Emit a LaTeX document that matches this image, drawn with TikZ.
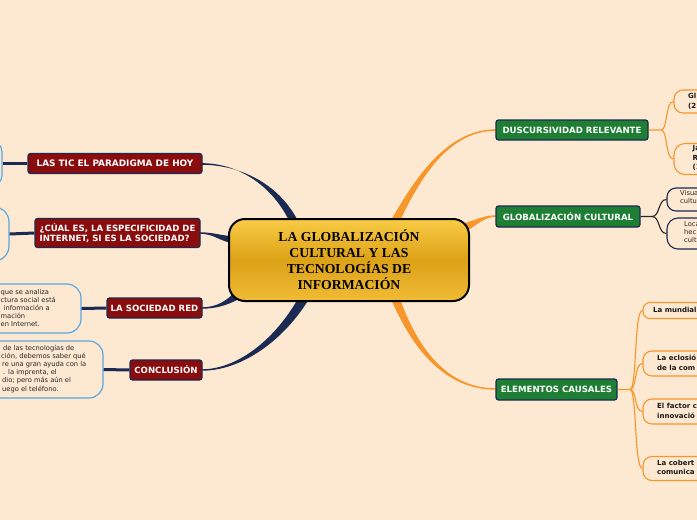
\documentclass[tikz,border=0pt]{standalone}
\usepackage{fontspec}
\setmainfont{DejaVu Sans}
\newfontfamily\titlefont{Liberation Serif}
\usetikzlibrary{calc}
\definecolor{bg}{HTML}{FDE8D2}
\definecolor{navy}{HTML}{1B2A52}
\definecolor{redn}{HTML}{8A0C0C}
\definecolor{greenn}{HTML}{1E7E34}
\definecolor{orangel}{HTML}{F7962B}
\definecolor{bluel}{HTML}{5AA9E0}
\definecolor{gtop}{HTML}{F9CB45}
\definecolor{gmid}{HTML}{DCA218}
\definecolor{gbot}{HTML}{F0BB35}
\begin{document}
\begin{tikzpicture}[x=1pt,y=-1pt,
  mainbox/.style={draw=black,line width=2pt,rounded corners=16pt,top color=gtop,bottom color=gbot,middle color=gmid,minimum width=240pt,minimum height=82pt,align=center,inner sep=0pt,font=\titlefont\fontsize{13.7}{16}\selectfont\bfseries},
  redbox/.style={draw=navy,line width=1.2pt,fill=redn,rounded corners=2.5pt,text=white,font=\fontsize{8.6}{10.5}\selectfont\bfseries,inner sep=0pt,minimum height=20pt},
  greenbox/.style={redbox,fill=greenn},
  blueleaf/.style={draw=bluel,line width=1.2pt,fill=bg,rounded corners=12pt,inner sep=0pt},
  orleaf/.style={draw=orangel,line width=1.1pt,fill=bg,rounded corners=9pt,inner sep=0pt},
  navyleaf/.style={draw=navy,line width=1.1pt,fill=bg,rounded corners=9pt,inner sep=0pt},
  smalltxt/.style={font=\fontsize{6.7}{8.4}\selectfont,align=left,inner sep=0pt,anchor=north west,text=black!85},
  boldtxt/.style={font=\fontsize{7}{9.5}\selectfont\bfseries,align=left,inner sep=0pt,anchor=north west,text=black!90},
  navyline/.style={draw=navy,line width=3pt},
  orthin/.style={draw=orangel,line width=1.1pt},
  blthin/.style={draw=black!85,line width=1.1pt}
]
\useasboundingbox (0,0) rectangle (697,520);
\fill[bg] (0,0) rectangle (697,520);

\coordinate (cc) at (349,260);

% ---------- main branches (tapered) ----------
% left, navy
\fill[navy] (202,163.2) .. controls (238,163) and (274,186) .. (291,225) -- (300,225) .. controls (281,184) and (240,164.8) .. (202,164.8) -- cycle;
\fill[navy] (200,232.3) .. controls (214,232.3) and (222,236) .. (233,236) -- (233,243) .. controls (221,242) and (214,233.7) .. (200,233.7) -- cycle;
\fill[navy] (202,307.3) .. controls (216,307.3) and (228,301) .. (237,289) -- (244,296) .. controls (231,304) and (218,308.7) .. (202,308.7) -- cycle;
\fill[navy] (202,369.3) .. controls (240,369) and (278,336) .. (300,295) -- (309,299) .. controls (284,340) and (242,370.7) .. (202,370.7) -- cycle;
% right, orange
\fill[orangel] (496,129.3) .. controls (446,129.3) and (414,180) .. (390,222) -- (398,225) .. controls (418,182) and (447,130.7) .. (496,130.7) -- cycle;
\fill[orangel] (496,215.3) .. controls (485,215.3) and (478,219) .. (465,223) -- (467,231) .. controls (479,223) and (486,216.7) .. (496,216.7) -- cycle;
\fill[orangel] (496,388.3) .. controls (445,388.3) and (416,345) .. (399,296) -- (391,299) .. controls (412,348) and (444,389.7) .. (496,389.7) -- cycle;

% ---------- central node ----------
\node[mainbox] (c) at (cc) {LA GLOBALIZACIÓN\\CULTURAL Y LAS\\TECNOLOGÍAS DE\\INFORMACIÓN};

% ---------- left red nodes ----------
\node[redbox,minimum width=174pt,font=\fontsize{8.9}{10.5}\selectfont\bfseries] (tic) at (115,163.5) {LAS TIC EL PARADIGMA DE HOY};
\node[redbox,minimum width=165pt,minimum height=29pt,align=left] (cual) at (117.5,233) {¿CÚAL ES, LA ESPECIFICIDAD DE\\INTERNET, SI ES LA SOCIEDAD?};
\node[redbox,minimum width=95pt] (soc) at (154.5,308) {LA SOCIEDAD RED};
\node[redbox,minimum width=72pt] (conc) at (166,370) {CONCLUSIÓN};

% ---------- left leaves ----------
\node[blueleaf,minimum width=80pt,minimum height=47pt] (l1) at (-38,163.5) {};
\node[blueleaf,minimum width=80pt,minimum height=54pt,rounded corners=15pt] (l2) at (-31,234) {};
\node[blueleaf,minimum width=140pt,minimum height=49pt,rounded corners=14pt] (l3) at (11,308.5) {};
\node[blueleaf,minimum width=160pt,minimum height=57pt,rounded corners=14pt] (l4) at (23,369.5) {};
\path[navyline] (l1.east) -- (tic.west);
\path[navyline] (l2.east) -- (cual.west);
\path[navyline] (l3.east) -- (soc.west);
\path[navyline] (l4.east) -- (conc.west);
\node[smalltxt] (t3) at (0.5,289) {que se analiza\\[-0.3pt]ctura social está\\[-0.3pt]\hspace*{3pt}información a\\[-0.3pt]mación\\[-0.3pt]en Internet.};
\node[smalltxt] (t4) at (1,345) {\hspace*{2pt}de las tecnologías de\\[-0.3pt]ción, debemos saber qué\\[-0.3pt]\hspace*{1pt}re una gran ayuda con la\\[-0.3pt]\hspace*{2pt}. la imprenta, el\\[-0.3pt]\hspace*{1pt}dio; pero más aún el\\[-0.3pt]\hspace*{1pt}uego el teléfono.};

% ---------- right green nodes ----------
\node[greenbox,minimum width=152pt] (dus) at (572,130) {DUSCURSIVIDAD RELEVANTE};
\node[greenbox,minimum width=144pt,minimum height=21pt] (gc) at (568,216.5) {GLOBALIZACIÓN CULTURAL};
\node[greenbox,minimum width=121pt,minimum height=21pt] (ec) at (556.5,389.5) {ELEMENTOS CAUSALES};

% ---------- DUS leaves ----------
\node[orleaf,minimum width=80pt,minimum height=23pt] (d1) at (714,101.5) {};
\node[orleaf,minimum width=80pt,minimum height=31pt,rounded corners=11pt] (d2) at (714,159) {};
\coordinate (df) at (661,130);
\path[orthin] (dus.east) -- (df) .. controls (668,130) and (665,101.5) .. (d1.west);
\path[orthin] (df) .. controls (668,130) and (665,159) .. (d2.west);
\node[boldtxt] (d1t) at (688,93) {Gl\\(2};
\node[boldtxt,align=left] (d2t) at (692.5,145.5) {Ja\\R\\(1};

% ---------- GC leaves ----------
\node[navyleaf,minimum width=90pt,minimum height=23pt] (g1) at (712,199.5) {};
\node[navyleaf,minimum width=90pt,minimum height=31pt,rounded corners=11pt] (g2) at (712,233.5) {};
\coordinate (gf) at (652,216.5);
\path[blthin] (gc.east) -- (gf) .. controls (660,216.5) and (658,199.5) .. (g1.west);
\path[blthin] (gf) .. controls (660,216.5) and (658,233.5) .. (g2.west);
\node[smalltxt] (g1t) at (680,190.5) {Visua\\[-0.5pt]cultu};
\node[smalltxt] (g2t) at (684,221.5) {Loca\\[-0.5pt]hec\\[-0.5pt]cult};

% ---------- EC leaves ----------
\node[orleaf,minimum width=110pt,minimum height=16pt,rounded corners=7pt] (e1) at (698,310.5) {};
\node[orleaf,minimum width=110pt,minimum height=25pt] (e2) at (698,363.5) {};
\node[orleaf,minimum width=110pt,minimum height=25pt] (e3) at (698,411.5) {};
\node[orleaf,minimum width=110pt,minimum height=24pt] (e4) at (698,468.5) {};
\coordinate (ef) at (630,389.5);
\path[orthin] (ec.east) -- (ef) .. controls (637,389.5) and (634,310.5) .. (e1.west);
\path[orthin] (ef) .. controls (637,389.5) and (634,363.5) .. (e2.west);
\path[orthin] (ef) .. controls (637,389.5) and (634,411.5) .. (e3.west);
\path[orthin] (ef) .. controls (637,389.5) and (634,468.5) .. (e4.west);
\node[boldtxt] (e1t) at (653,306.5) {La mundial};
\node[boldtxt] (e2t) at (657,355) {La eclosió\\de la com};
\node[boldtxt] (e3t) at (657,403) {El factor c\\innovació};
\node[boldtxt] (e4t) at (657,459.5) {La cobert\\comunica};
\end{tikzpicture}
\end{document}
